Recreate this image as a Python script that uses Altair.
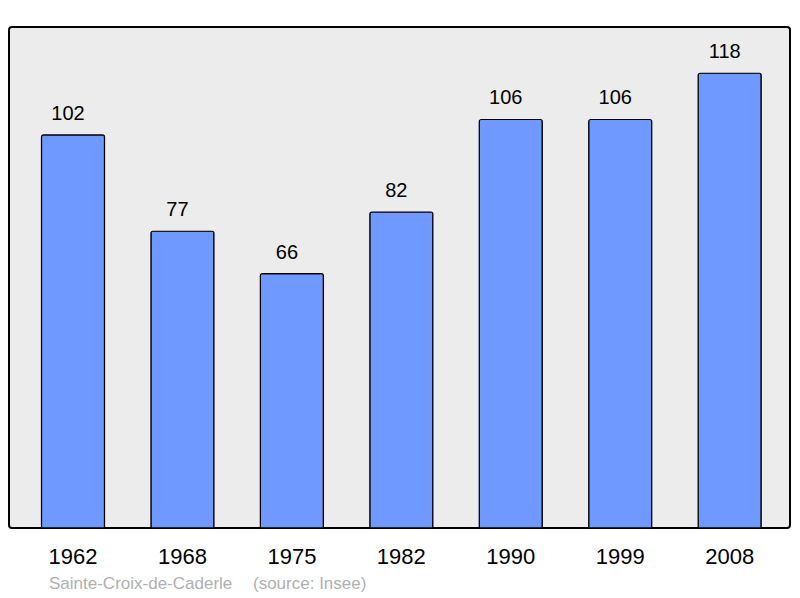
import altair as alt
import pandas as pd

years = ["1962", "1968", "1975", "1982", "1990", "1999", "2008"]
population = [102, 77, 66, 82, 106, 106, 118]
commune = "Sainte-Croix-de-Caderle"
source = "(source: Insee)"

df = pd.DataFrame({"year": years, "pop": population})

FONT = "Liberation Sans"

x = alt.X("year:N", sort=years, title=None,
          scale=alt.Scale(paddingInner=0.424, paddingOuter=0.28, align=0.53),
          axis=alt.Axis(ticks=False, domain=False, labelAngle=0, labelFontSize=22,
                        labelFont=FONT, labelColor="#000000", labelBaseline="alphabetic",
                        labelPadding=35, grid=False))
y = alt.Y("pop:Q", title=None, scale=alt.Scale(domain=[0, 130], nice=False, zero=True),
          axis=None)

bars = alt.Chart(df).mark_bar(
    color="#7099ff", stroke="#000000", strokeWidth=1.2,
    cornerRadiusTopLeft=2, cornerRadiusTopRight=2
).encode(x=x, y=y)

labels = alt.Chart(df).mark_text(
    dx=-5, dy=-15, baseline="alphabetic", fontSize=20, font=FONT, color="#000000"
).encode(x=x, y=y, text="pop:Q")

foot_df = pd.DataFrame({"t": [commune, source], "px": [40, 244]})
footer = alt.Chart(foot_df).mark_text(
    align="left", baseline="alphabetic", fontSize=17, font=FONT, color="#b0b0b0"
).encode(x=alt.X("px:Q", scale=None), y=alt.value(562), text="t:N")

chart = alt.layer(bars, labels, footer).properties(
    width=781, height=501,
    padding={"left": 1, "top": 19, "right": 2, "bottom": 68},
    autosize=alt.AutoSizeParams(type="none"),
    background="#ffffff",
).configure_view(
    fill="#ececec", stroke="#000000", strokeWidth=2, cornerRadius=3
)

chart.save("out.html", embed_options={"renderer": "svg", "actions": False})
